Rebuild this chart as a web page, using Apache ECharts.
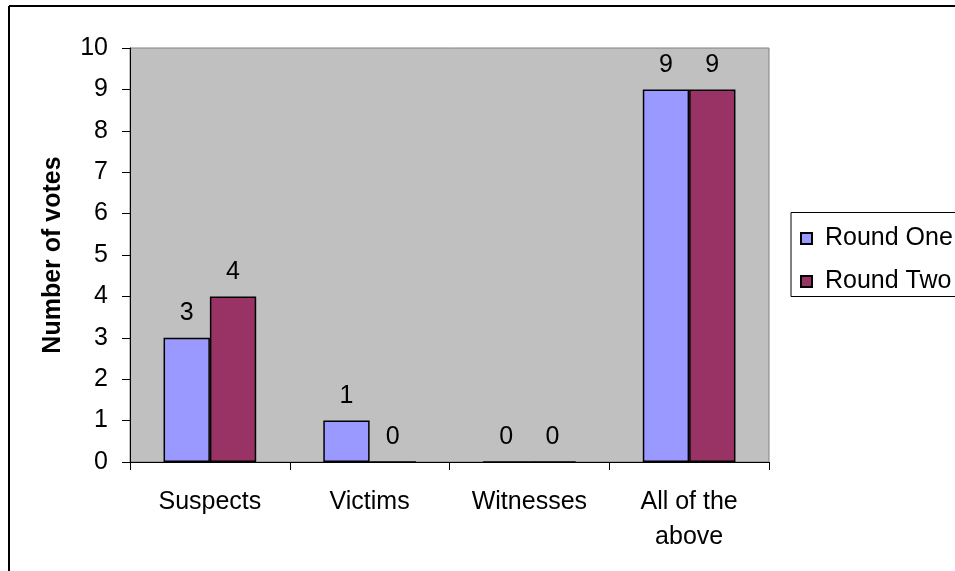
<!DOCTYPE html>
<html><head><meta charset="utf-8">
<script src="https://cdn.jsdelivr.net/npm/echarts@6/dist/echarts.min.js"></script>
<style>html,body{margin:0;padding:0;background:#fff}#c{width:955px;height:571px}</style>
</head><body><div id="c"></div>
<script>
const categories = ['Suspects', 'Victims', 'Witnesses', 'All of the\nabove'];
const roundOne = [3, 1, 0, 9];
const roundTwo = [4, 0, 0, 9];
const yTicks = {min: 0, max: 10, interval: 1};

const chart = echarts.init(document.getElementById('c'));
const font = 'Liberation Sans, Arial, sans-serif';
const FS = 25;
const lbl = {show: true, position: 'top', distance: 12, color: '#000', fontSize: FS, fontFamily: font};
chart.setOption({
  animation: false,
  grid: {left: 130, top: 48, width: 639, height: 414, show: true, backgroundColor: '#C0C0C0', borderColor: '#808080', borderWidth: 1},
  legend: {
    orient: 'vertical', left: 800, top: 226, padding: 0, itemWidth: 11, itemHeight: 11, itemGap: 18,
    icon: 'rect',
    textStyle: {fontSize: FS, fontFamily: font, color: '#000', padding: [0,0,0,8]},
    data: ['Round One', 'Round Two']
  },
  xAxis: {
    type: 'category', data: categories,
    axisLine: {lineStyle: {color: '#000', width: 1}},
    axisTick: {show: true, length: 8, lineStyle: {color: '#000'}},
    axisLabel: {color: '#000', fontSize: FS, fontFamily: font, margin: 23, lineHeight: 35}
  },
  yAxis: {
    type: 'value', min: yTicks.min, max: yTicks.max, interval: yTicks.interval,
    name: 'Number of votes', nameLocation: 'middle', nameRotate: 90, nameGap: 64,
    nameTextStyle: {fontSize: FS, fontWeight: 'bold', fontFamily: font, color: '#000'},
    axisLine: {show: true, lineStyle: {color: '#000'}},
    axisTick: {show: true, length: 8, lineStyle: {color: '#000'}},
    splitLine: {show: false},
    axisLabel: {color: '#000', fontSize: FS, fontFamily: font, margin: 22}
  },
  series: [
    {name: 'Round One', type: 'bar', data: roundOne, barGap: '0%', barCategoryGap: '42%',
     itemStyle: {color: '#9999FF', borderColor: '#000', borderWidth: 1.5}, label: lbl},
    {name: 'Round Two', type: 'bar', data: roundTwo,
     itemStyle: {color: '#993366', borderColor: '#000', borderWidth: 1.5}, label: lbl}
  ],
  graphic: [
    {type: 'line', shape: {x1: 9, y1: 6, x2: 9, y2: 571}, style: {stroke: '#000', lineWidth: 2}},
    {type: 'line', shape: {x1: 9, y1: 6, x2: 955, y2: 6}, style: {stroke: '#000', lineWidth: 2}},
    {type: 'rect', shape: {x: 791, y: 212.5, width: 200, height: 84}, style: {fill: 'none', stroke: '#000', lineWidth: 1}, z: -1}
  ]
});
</script></body></html>
